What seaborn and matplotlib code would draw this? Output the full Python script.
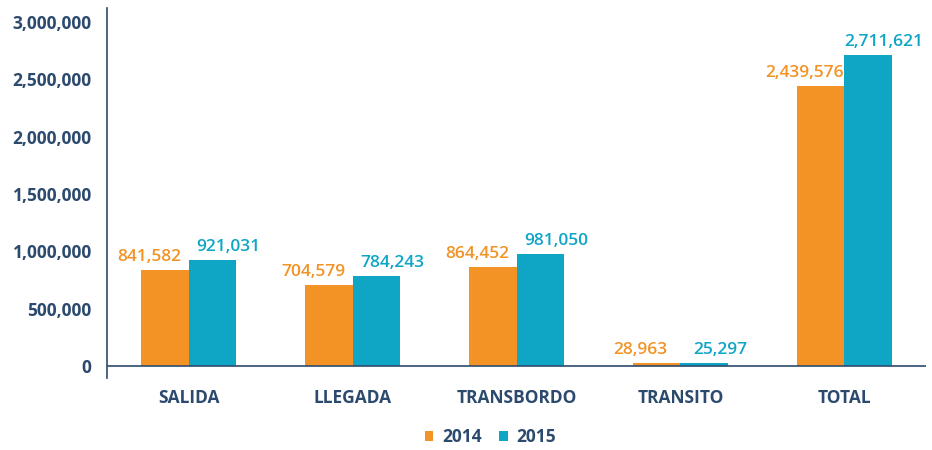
import pandas as pd
import seaborn as sns
import matplotlib.pyplot as plt

categories = ['SALIDA', 'LLEGADA', 'TRANSBORDO', 'TRANSITO', 'TOTAL']
years = ['2014', '2015']
values_2014 = [841582, 704579, 864452, 28963, 2439576]
values_2015 = [921031, 784243, 981050, 25297, 2711621]
yticks = [0, 500000, 1000000, 1500000, 2000000, 2500000, 3000000]

df = pd.DataFrame({
    'categoria': categories * 2,
    'year': ['2014'] * len(categories) + ['2015'] * len(categories),
    'value': values_2014 + values_2015,
})

sns.set_style('white')
plt.rcParams['font.family'] = ['Open Sans', 'DejaVu Sans']

navy = '#2c4a6e'
colors = {'2014': '#f39325', '2015': '#0fa6c6'}

fig = plt.figure(figsize=(9.32, 4.5), dpi=100)
ax = fig.add_axes([0.1148, 0.161, 0.879, 0.8207])

sns.barplot(data=df, x='categoria', y='value', hue='year', palette=colors,
            width=0.58, gap=0, saturation=1, linewidth=0, ax=ax, legend=True)

# value labels: orange shifted left, teal shifted right
for cont, yr, dx in zip(ax.containers, years, [-16, 16]):
    for bar, v in zip(cont, cont.datavalues):
        ax.annotate(f'{v:,.0f}', (bar.get_x() + bar.get_width() / 2, v),
                    xytext=(dx, 5), textcoords='offset pixels',
                    ha='center', va='bottom', color=colors[yr],
                    fontsize=12.5, fontweight='semibold')

ax.set_xlim(-0.5, 4.5)
ax.set_ylim(-100000, 3120000)
ax.set_yticks(yticks)
ax.set_yticklabels([f'{t:,}' for t in yticks])
ax.set_yticks([0], minor=True)
ax.tick_params(axis='y', which='major', length=0, pad=11, labelsize=12.5, labelcolor=navy)
ax.tick_params(axis='y', which='minor', length=12, width=1, color=navy)
ax.tick_params(axis='x', length=0, pad=8, labelsize=12.5, labelcolor=navy)
for lbl in ax.get_yticklabels() + ax.get_xticklabels():
    lbl.set_fontweight('bold')

ax.axhline(0, color=navy, lw=1.2, zorder=3)
for s in ['top', 'right', 'bottom']:
    ax.spines[s].set_visible(False)
ax.spines['left'].set_color(navy)
ax.spines['left'].set_linewidth(1.2)
ax.set_xlabel('')
ax.set_ylabel('')

handles, labels = ax.get_legend_handles_labels()
ax.get_legend().remove()
leg = fig.legend(handles, labels, loc='center', bbox_to_anchor=(0.526, 0.029),
                 ncol=2, frameon=False, handlelength=0.5, handleheight=0.5,
                 handletextpad=0.5, columnspacing=1.0,
                 prop={'size': 12.5, 'weight': 'bold'})
for t in leg.get_texts():
    t.set_color(navy)

fig.savefig('out.png', dpi=100)
